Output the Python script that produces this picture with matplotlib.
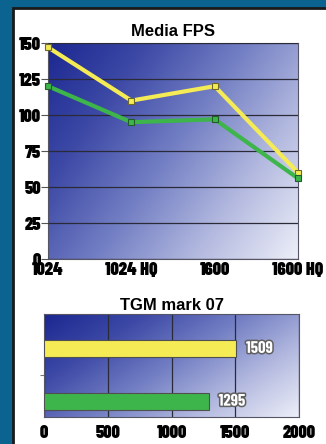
import numpy as np
import matplotlib
matplotlib.use("Agg")
import matplotlib.pyplot as plt
import matplotlib.patheffects as pe
from matplotlib.colors import LinearSegmentedColormap
from matplotlib.patches import Rectangle

# data
resolutions = ["1024", "1024 HQ", "1600", "1600 HQ"]
fps_yellow = [147, 110, 120, 60]
fps_green = [120, 95, 97, 56]
mark_values = [1509, 1295]

YELLOW = "#f5ec55"
GREEN = "#3db54a"
TICKFONT = ["Barlow Condensed", "DejaVu Sans"]
TITLEFONT = ["Liberation Sans", "DejaVu Sans"]

plt.rcParams["font.family"] = TICKFONT
plt.rcParams["font.weight"] = 900

grad = LinearSegmentedColormap.from_list(
    "g", ["#1b2790", "#3e4aa6", "#7480c4", "#b5bbe0", "#eceef8"])


def gradient_bg(ax):
    xx, yy = np.meshgrid(np.linspace(0, 1, 200), np.linspace(0, 1, 200))
    z = 0.62 * xx + 0.38 * yy
    ax.imshow(z, cmap=grad, extent=(0, 1, 0, 1), transform=ax.transAxes,
              aspect="auto", origin="upper", zorder=0, interpolation="bilinear")


W, H = 326.0, 444.0
fig = plt.figure(figsize=(W / 100, H / 100), dpi=100)
fig.patch.set_facecolor("#0b6490")
fig.add_artist(Rectangle((13 / W, -0.01), 1, 1 - 8 / H + 0.01, transform=fig.transFigure,
                         facecolor="white", edgecolor="#1a1a1a", linewidth=2, zorder=0))

# line chart
ax1 = fig.add_axes([48 / W, 1 - 259 / H, 250 / W, 216 / H])
gradient_bg(ax1)
x = np.arange(len(resolutions))
ax1.plot(x, fps_yellow, color=YELLOW, lw=3, marker="s", ms=4,
         mfc=YELLOW, mec="#6e6a2a", mew=0.8, zorder=3, clip_on=False)
ax1.plot(x, fps_green, color=GREEN, lw=3, marker="s", ms=4,
         mfc=GREEN, mec="#235c2a", mew=0.8, zorder=3, clip_on=False)
ax1.set_xlim(0, 3)
ax1.set_ylim(0, 150)
ax1.set_yticks(range(0, 151, 25))
ax1.set_xticks(x)
ax1.set_xticklabels(resolutions)
ax1.yaxis.grid(True, color="#2a2a38", lw=0.9)
ax1.set_axisbelow(False)
for s in ax1.spines.values():
    s.set_color("#555566")
    s.set_linewidth(0.8)
ax1.tick_params(axis="y", length=5, color="#555555", labelsize=13, pad=0)
ax1.tick_params(axis="x", length=0, labelsize=13, pad=2)
ax1.set_title("Media FPS", fontsize=12, fontweight="bold", pad=5, family=TITLEFONT)

# bar chart
ax2 = fig.add_axes([44 / W, 1 - 417 / H, 255 / W, 103 / H])
gradient_bg(ax2)
ypos = [1, 0]
ax2.barh(ypos, mark_values, height=0.32, color=[YELLOW, GREEN],
         edgecolor="#505050", linewidth=0.8, zorder=3)
for yp, v in zip(ypos, mark_values):
    ax2.text(v + 75, yp, str(v), va="center", ha="left", fontsize=12,
             color="white", fontweight="bold", zorder=4,
             path_effects=[pe.withStroke(linewidth=2.2, foreground="#606060")])
ax2.set_xlim(0, 2000)
ax2.set_ylim(-0.3, 1.65)
ax2.set_xticks(range(0, 2001, 500))
ax2.set_yticks([0.5])
ax2.set_yticklabels([""])
ax2.xaxis.grid(True, color="#2a2a38", lw=0.9)
for s in ax2.spines.values():
    s.set_color("#555566")
    s.set_linewidth(0.8)
ax2.tick_params(axis="x", length=0, labelsize=13, pad=6)
ax2.tick_params(axis="y", length=3, color="#777777")
ax2.set_title("TGM mark 07", fontsize=12, fontweight="bold", pad=3, family=TITLEFONT)

fig.savefig("out.png", dpi=100, facecolor=fig.get_facecolor())
